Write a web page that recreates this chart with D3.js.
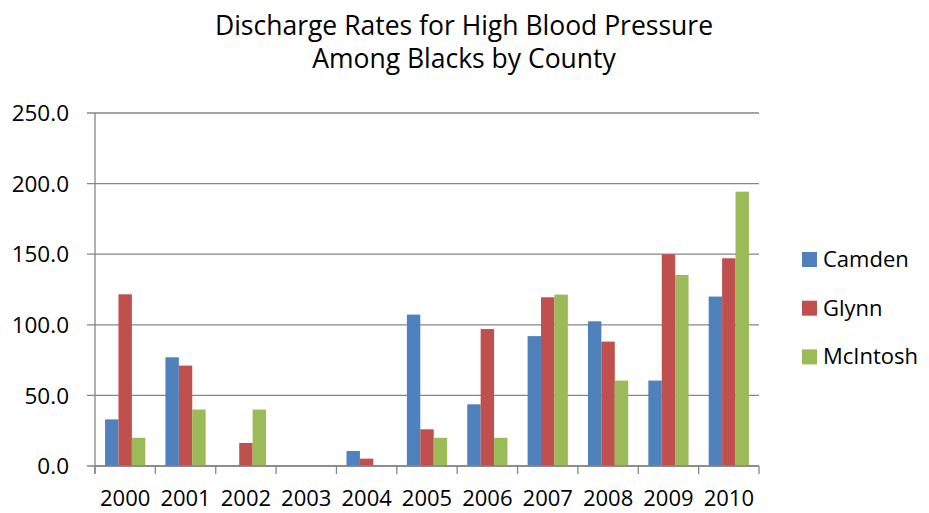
<!DOCTYPE html>
<html>
<head>
<meta charset="utf-8">
<script src="https://cdn.jsdelivr.net/npm/d3@7"></script>
<style>
  body { margin: 0; background: #fff; }
  text { font-family: "Open Sans", sans-serif; fill: #000; }
</style>
</head>
<body>
<div id="chart"></div>
<script>
// data
var years = ["2000", "2001", "2002", "2003", "2004", "2005", "2006", "2007", "2008", "2009", "2010"];
var counties = ["Camden", "Glynn", "McIntosh"];
var camden   = [33.0, 77.0, 0, 0, 10.6, 107.2, 43.7, 92.0, 102.5, 60.5, 120.0];
var glynn    = [121.6, 71.1, 16.3, 0, 5.2, 26.0, 97.0, 119.5, 88.1, 150.0, 147.1];
var mcintosh = [20.0, 40.0, 40.0, 0, 0, 20.0, 20.0, 121.4, 60.5, 135.3, 194.3];
var yTicks = [0, 50, 100, 150, 200, 250];
var colors = ["#4F81BD", "#C0504D", "#9BBB59"];

var series = [camden, glynn, mcintosh];

var svgWidth = 929, svgHeight = 513;
var margin = { top: 113, right: 170, bottom: 47, left: 95 };
var width = svgWidth - margin.left - margin.right;
var height = svgHeight - margin.top - margin.bottom;

var svg = d3.select("#chart").append("svg")
    .attr("width", svgWidth)
    .attr("height", svgHeight);

// title
svg.append("text")
    .attr("x", 464).attr("y", 35)
    .attr("text-anchor", "middle")
    .attr("font-size", "26.5px")
    .text("Discharge Rates for High Blood Pressure");
svg.append("text")
    .attr("x", 464).attr("y", 68)
    .attr("text-anchor", "middle")
    .attr("font-size", "26.5px")
    .text("Among Blacks by County");

var g = svg.append("g")
    .attr("transform", "translate(" + margin.left + "," + margin.top + ")");

var x = d3.scaleBand()
    .domain(years)
    .range([0, width])
    .paddingInner(0)
    .paddingOuter(0);

var barW = x.bandwidth() / 4.5;

var xSub = d3.scaleBand()
    .domain(counties)
    .range([barW * 0.75, barW * 3.75]);

var y = d3.scaleLinear()
    .domain([0, 250])
    .range([height, 0]);

// gridlines
g.selectAll(".grid")
    .data(yTicks)
    .enter().append("line")
    .attr("x1", -8).attr("x2", width)
    .attr("y1", function(d) { return y(d); })
    .attr("y2", function(d) { return y(d); })
    .attr("stroke", "#868686")
    .attr("stroke-width", 1.3);

// y labels
g.selectAll(".ylab")
    .data(yTicks)
    .enter().append("text")
    .attr("x", -26)
    .attr("y", function(d) { return y(d); })
    .attr("dy", "0.36em")
    .attr("text-anchor", "end")
    .attr("font-size", "22.5px")
    .text(function(d) { return d.toFixed(1); });

// bars
counties.forEach(function(c, i) {
    g.selectAll(".bar" + i)
        .data(series[i])
        .enter().append("rect")
        .attr("x", function(d, j) { return x(years[j]) + xSub(c); })
        .attr("width", xSub.bandwidth())
        .attr("y", function(d) { return y(d); })
        .attr("height", function(d) { return height - y(d); })
        .attr("fill", colors[i]);
});

// axes lines
g.append("line")
    .attr("x1", 0).attr("x2", 0)
    .attr("y1", 0).attr("y2", height + 8)
    .attr("stroke", "#868686").attr("stroke-width", 1.3);

g.append("line")
    .attr("x1", 0).attr("x2", width)
    .attr("y1", height).attr("y2", height)
    .attr("stroke", "#868686").attr("stroke-width", 1.3);

var bounds = years.map(function(d) { return x(d); }).concat([width]);
g.selectAll(".xtick")
    .data(bounds)
    .enter().append("line")
    .attr("x1", function(d) { return d; })
    .attr("x2", function(d) { return d; })
    .attr("y1", height).attr("y2", height + 8)
    .attr("stroke", "#868686").attr("stroke-width", 1.3);

// x labels
g.selectAll(".xlab")
    .data(years)
    .enter().append("text")
    .attr("x", function(d) { return x(d) + x.bandwidth() / 2; })
    .attr("y", height + 40)
    .attr("text-anchor", "middle")
    .attr("font-size", "22px")
    .text(function(d) { return d; });

// legend
var legend = svg.append("g")
    .attr("transform", "translate(802,252)");

counties.forEach(function(c, i) {
    legend.append("rect")
        .attr("x", 0).attr("y", i * 48.7)
        .attr("width", 15).attr("height", 15)
        .attr("fill", colors[i]);
    legend.append("text")
        .attr("x", 21).attr("y", i * 48.7 + 15)
        .attr("font-size", "22px")
        .text(c);
});
</script>
</body>
</html>
